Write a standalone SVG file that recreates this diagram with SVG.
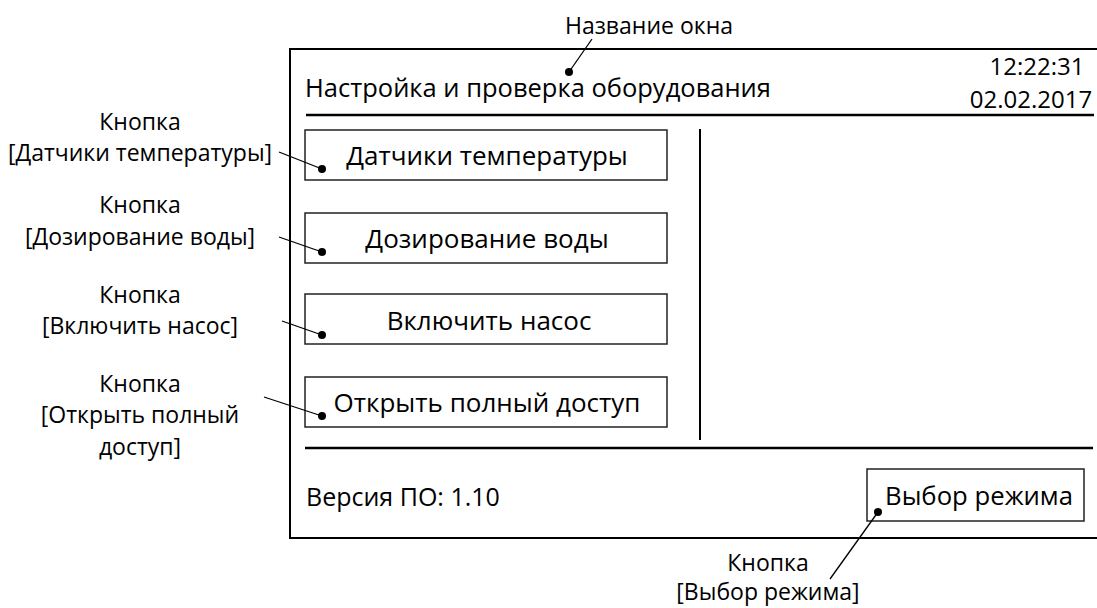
<svg xmlns="http://www.w3.org/2000/svg" width="1097" height="608" viewBox="0 0 1097 608">
<style>
text{font-family:"Open Sans","Liberation Sans",sans-serif;fill:#000;}
.t{font-size:25.5px;}
.b{font-size:26px;text-anchor:middle;}
.lbl{font-size:23px;text-anchor:middle;}
.mid{text-anchor:middle;}
.btn{fill:#fff;stroke:#222;stroke-width:1.5;}
.frame{fill:#fff;stroke:#000;stroke-width:2;}
.sep{stroke:#000;stroke-width:2.5;fill:none;}
.lead{stroke:#000;stroke-width:1.3;fill:none;}
.dot{fill:#000;}
</style>
<g id="window">
<rect class="frame" x="290" y="49" width="820" height="489"/>
<text class="t" x="305" y="97">Настройка и проверка оборудования</text>
<text class="t mid" x="1037" y="75" style="font-size:24px">12:22:31</text>
<text class="t mid" x="1031" y="108" style="font-size:24px">02.02.2017</text>
<line class="sep" x1="306" y1="115" x2="1094" y2="115"/>
<line class="sep" x1="700" y1="129" x2="700" y2="440" style="stroke-width:2"/>
<line class="sep" x1="305" y1="448" x2="1093" y2="448"/>
<text class="t" x="306" y="506" style="font-size:25px">Версия ПО: 1.10</text>
</g>
<g id="btn-sensors">
<rect class="btn" x="305" y="130" width="362" height="50"/>
<text class="b" x="487" y="165">Датчики температуры</text>
</g>
<g id="btn-water">
<rect class="btn" x="305" y="213" width="362" height="50"/>
<text class="b" x="487" y="248">Дозирование воды</text>
</g>
<g id="btn-pump">
<rect class="btn" x="305" y="294" width="362" height="50"/>
<text class="b" x="489" y="330">Включить насос</text>
</g>
<g id="btn-access">
<rect class="btn" x="305" y="377" width="362" height="50"/>
<text class="b" x="487" y="412">Открыть полный доступ</text>
</g>
<g id="btn-mode">
<rect class="btn" x="867" y="469" width="217" height="52"/>
<text class="b" x="979" y="505" style="font-size:25.7px">Выбор режима</text>
</g>
<g id="label-title">
<text class="lbl" x="649" y="34">Название окна</text>
</g>
<g id="label-sensors">
<text class="lbl" x="140" y="130">Кнопка</text>
<text class="lbl" x="140" y="161">[Датчики температуры]</text>
</g>
<g id="label-water">
<text class="lbl" x="140" y="213">Кнопка</text>
<text class="lbl" x="140" y="245">[Дозирование воды]</text>
</g>
<g id="label-pump">
<text class="lbl" x="140" y="303">Кнопка</text>
<text class="lbl" x="140" y="334">[Включить насос]</text>
</g>
<g id="label-access">
<text class="lbl" x="140" y="392">Кнопка</text>
<text class="lbl" x="140" y="423">[Открыть полный</text>
<text class="lbl" x="140" y="455">доступ]</text>
</g>
<g id="label-mode">
<text class="lbl" x="768" y="571">Кнопка</text>
<text class="lbl" x="768" y="600">[Выбор режима]</text>
</g>
<g id="connectors">
<line class="lead" x1="592" y1="39" x2="569" y2="72"/>
<circle class="dot" cx="569" cy="72" r="4"/>
<line class="lead" x1="279" y1="152" x2="322" y2="169"/>
<circle class="dot" cx="322" cy="169" r="4"/>
<line class="lead" x1="279" y1="237" x2="322" y2="252"/>
<circle class="dot" cx="322" cy="252" r="4"/>
<line class="lead" x1="282" y1="321" x2="322" y2="335"/>
<circle class="dot" cx="322" cy="335" r="4"/>
<line class="lead" x1="264" y1="397" x2="322" y2="416"/>
<circle class="dot" cx="322" cy="416" r="4"/>
<line class="lead" x1="878" y1="512" x2="830" y2="579"/>
<circle class="dot" cx="878" cy="512" r="4"/>
</g>
</svg>
